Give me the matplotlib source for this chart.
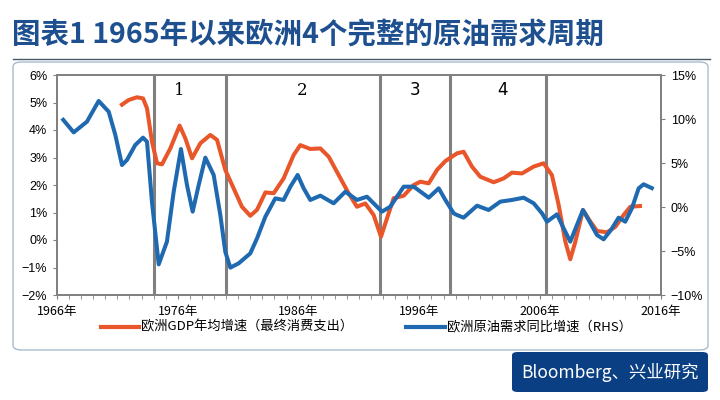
import matplotlib.pyplot as plt
from matplotlib.patches import FancyBboxPatch
from matplotlib.lines import Line2D

plt.rcParams['font.family'] = ['Noto Sans CJK SC', 'DejaVu Sans']

# 欧洲GDP年均增速（最终消费支出），左轴 %
gdp_years = [1971.24, 1971.93, 1972.62, 1973.12, 1973.45, 1973.86, 1974.28, 1974.69,
             1975.38, 1976.15, 1976.62, 1977.18, 1977.87, 1978.69, 1979.25, 1979.93,
             1980.62, 1981.31, 1982.0, 1982.56, 1983.25, 1983.94, 1984.76, 1985.59,
             1986.14, 1986.97, 1987.8, 1988.49, 1989.32, 1990.14, 1990.83, 1991.52,
             1992.21, 1992.82, 1993.32, 1993.87, 1994.7, 1995.53, 1996.08, 1996.77,
             1997.46, 1998.15, 1999.11, 1999.66, 2000.35, 2001.04, 2002.15, 2002.97,
             2003.66, 2004.49, 2005.46, 2006.28, 2006.97, 2007.53, 2008.08, 2008.49,
             2008.91, 2009.54, 2010.15, 2010.7, 2011.53, 2012.22, 2012.91, 2013.46,
             2014.43]
gdp_vals = [4.88, 5.09, 5.19, 5.15, 4.79, 3.58, 2.79, 2.75,
            3.33, 4.16, 3.70, 2.97, 3.52, 3.82, 3.64, 2.55,
            1.88, 1.21, 0.88, 1.10, 1.73, 1.70, 2.24, 3.09,
            3.45, 3.31, 3.33, 3.03, 2.36, 1.70, 1.21, 1.33,
            0.91, 0.12, 0.79, 1.52, 1.61, 2.00, 2.12, 2.06,
            2.55, 2.87, 3.15, 3.21, 2.67, 2.30, 2.10, 2.24,
            2.45, 2.42, 2.67, 2.79, 2.36, 1.27, -0.06, -0.70,
            -0.06, 1.09, 0.67, 0.33, 0.28, 0.48, 0.91, 1.21,
            1.24]

# 欧洲原油需求同比增速，右轴 %
oil_years = [1966.41, 1967.38, 1968.48, 1969.45, 1970.28, 1970.83, 1971.38, 1971.79,
             1972.48, 1973.12, 1973.45, 1973.86, 1974.42, 1975.1, 1975.66, 1976.26,
             1976.76, 1977.23, 1977.73, 1978.28, 1978.97, 1979.52, 1979.93, 1980.35,
             1981.04, 1982.0, 1982.56, 1983.25, 1984.07, 1984.76, 1985.32, 1985.92,
             1986.42, 1986.97, 1987.8, 1988.9, 1989.87, 1990.83, 1991.66, 1992.21,
             1992.9, 1993.59, 1994.7, 1995.53, 1996.77, 1997.6, 1998.15, 1998.84,
             1999.11, 1999.66, 2000.77, 2001.73, 2002.7, 2003.66, 2004.63, 2005.46,
             2006.15, 2006.56, 2007.39, 2007.94, 2008.49, 2009.04, 2009.54, 2010.01,
             2010.7, 2011.25, 2011.86, 2012.49, 2013.04, 2013.59, 2014.15, 2014.56,
             2015.39]
oil_vals = [10.08, 8.48, 9.70, 12.05, 10.83, 8.18, 4.77, 5.34,
            7.05, 7.88, 7.42, 0.60, -6.52, -3.94, 1.74, 6.59,
            2.50, -0.53, 2.50, 5.61, 3.64, -0.91, -5.08, -6.89,
            -6.40, -5.27, -3.56, -1.10, 0.98, 0.80, 2.31, 3.64,
            2.12, 0.80, 1.29, 0.42, 1.74, 0.80, 1.17, 0.42,
            -0.53, 0.04, 2.31, 2.31, 1.06, 2.12, 0.80, -0.72,
            -0.91, -1.21, 0.15, -0.34, 0.61, 0.80, 1.06, 0.42,
            -0.72, -1.67, -0.83, -2.42, -3.94, -2.05, -0.34, -1.48,
            -3.18, -3.67, -2.61, -1.21, -1.67, -0.15, 2.12, 2.58,
            2.05]

cycle_bounds = [1974.0, 1980.0, 1992.75, 1998.5, 2006.5]
cycle_labels = ['1', '2', '3', '4']
cycle_label_x = [1976.1, 1986.3, 1995.6, 2002.9]

orange = '#E8562A'
blue = '#1F69B1'
grey = '#808080'

fig = plt.figure(figsize=(7.2, 4.0), dpi=100)

# 标题和分隔线
fig.text(12 / 720, 1 - 35 / 400, '图表1 1965年以来欧洲4个完整的原油需求周期',
         fontsize=20.5, color='#1E5090', va='center', ha='left', fontweight='bold')
fig.add_artist(Line2D([13 / 720, 710 / 720], [1 - 59 / 400, 1 - 59 / 400],
                      color='#4A5A6A', lw=1))

# 图表外框
fig.add_artist(FancyBboxPatch((13 / 720, 1 - 350 / 400), 695 / 720, 288 / 400,
                              boxstyle='round,pad=0,rounding_size=0.012',
                              transform=fig.transFigure, fc='none',
                              ec='#A8BBCF', lw=1))

ax = fig.add_axes([57 / 720, 1 - 295 / 400, 604 / 720, 220 / 400])
ax2 = ax.twinx()

ax.plot(gdp_years, gdp_vals, color=orange, lw=2.9, solid_joinstyle='round',
        solid_capstyle='butt', zorder=3)
ax2.plot(oil_years, oil_vals, color=blue, lw=2.9, solid_joinstyle='round',
         solid_capstyle='butt', zorder=3)

for xb in cycle_bounds:
    ax.axvline(xb, color=grey, lw=2.2, zorder=1)
for lab, xl in zip(cycle_labels, cycle_label_x):
    fam = 'serif' if lab in ('1', '2') else 'DejaVu Sans'
    ax.text(xl, 5.45, lab, fontsize=12, ha='center', va='center', family=fam)

ax.set_xlim(1966, 2016)
ax.set_ylim(-2, 6)
ax2.set_ylim(-10, 15)

ax.set_xticks(range(1966, 2017, 10))
ax.set_xticklabels([f'{y}年' for y in range(1966, 2017, 10)], fontsize=9)
ax.set_xticks(range(1966, 2017), minor=True)
ax.set_yticks(range(-2, 7))
ax.set_yticklabels([f'{v}%'.replace('-', '−') for v in range(-2, 7)],
                   fontsize=9, family='Liberation Sans')
ax2.set_yticks(range(-10, 16, 5))
ax2.set_yticklabels([f'{v}%'.replace('-', '−') for v in range(-10, 16, 5)],
                    fontsize=9, family='Liberation Sans')

ax.tick_params(axis='x', which='both', direction='out', length=3, color=grey, pad=4)
ax.tick_params(axis='y', direction='out', length=3, color=grey, pad=4)
ax2.tick_params(axis='y', direction='out', length=3, color=grey, pad=4)

for a in (ax, ax2):
    for sp in a.spines.values():
        sp.set_color(grey)
        sp.set_linewidth(1.3)

# 图例
ly = 1 - 327 / 400
fig.add_artist(Line2D([101 / 720, 139 / 720], [ly, ly], color=orange, lw=3))
fig.text(141 / 720, ly, '欧洲GDP年均增速（最终消费支出）', fontsize=9.5,
         va='center', ha='left')
fig.add_artist(Line2D([406 / 720, 445 / 720], [ly, ly], color=blue, lw=3))
fig.text(447 / 720, ly, '欧洲原油需求同比增速（RHS）', fontsize=9.5,
         va='center', ha='left')

# 来源
fig.add_artist(FancyBboxPatch((512 / 720, 1 - 392 / 400), 196 / 720, 40 / 400,
                              boxstyle='round,pad=0,rounding_size=0.008',
                              transform=fig.transFigure, fc='#0B3F83',
                              ec='none'))
fig.text(610 / 720, 1 - 372 / 400, 'Bloomberg、兴业研究', fontsize=12.5,
         color='white', va='center', ha='center')

fig.savefig('out.png', dpi=100)
